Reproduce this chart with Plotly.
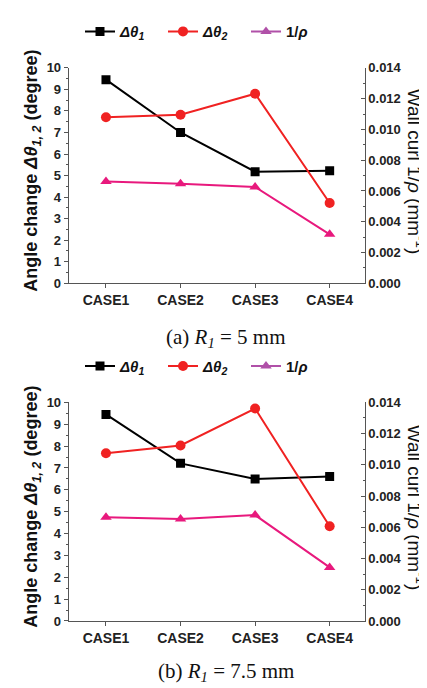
import plotly.graph_objects as go

cases = ["CASE1", "CASE2", "CASE3", "CASE4"]

# (a) R1 = 5 mm
a_dtheta1 = [9.45, 7.0, 5.18, 5.22]
a_dtheta2 = [7.71, 7.82, 8.80, 3.73]
a_curl = [0.00662, 0.00647, 0.00626, 0.00318]

# (b) R1 = 7.5 mm
b_dtheta1 = [9.45, 7.21, 6.50, 6.61]
b_dtheta2 = [7.67, 8.03, 9.72, 4.33]
b_curl = [0.00665, 0.00653, 0.00678, 0.00343]

left_ticks = list(range(0, 11))
right_ticks = [0.000, 0.002, 0.004, 0.006, 0.008, 0.010, 0.012, 0.014]

BLACK = "#000000"
RED = "#f02222"
PINK = "#e8197d"
PURPLE = "#b050a8"
FONT = "Liberation Sans, Arial, sans-serif"
SERIF = "Liberation Serif, Times New Roman, serif"

W, H = 427, 688
x0, x1 = 60.7 / W, 356.7 / W
panels = [
    dict(top=54.0, bot=274.3, d1=a_dtheta1, d2=a_dtheta2, c=a_curl,
         cap="(a) <i>R</i><sub><i>1</i></sub> = 5 mm", capy=330, legy=17),
    dict(top=396.0, bot=619.5, d1=b_dtheta1, d2=b_dtheta2, c=b_curl,
         cap="(b) <i>R</i><sub><i>1</i></sub> = 7.5 mm", capy=672, legy=359),
]

fig = go.Figure()
annotations = []

for i, p in enumerate(panels):
    n = i + 1
    xa = "x" if n == 1 else "x2"
    ya = "y" if n == 1 else "y3"
    yb = "y2" if n == 1 else "y4"
    leg = "legend" if n == 1 else "legend2"
    fig.add_trace(go.Scatter(x=cases, y=p["d1"], xaxis=xa, yaxis=ya, mode="lines+markers",
                             line=dict(color=BLACK, width=2),
                             marker=dict(symbol="square", size=9, color=BLACK),
                             name="<b><i>Δθ</i><sub><i>1</i></sub></b>", legend=leg))
    fig.add_trace(go.Scatter(x=cases, y=p["d2"], xaxis=xa, yaxis=ya, mode="lines+markers",
                             line=dict(color=RED, width=2),
                             marker=dict(symbol="circle", size=10, color=RED),
                             name="<b><i>Δθ</i><sub><i>2</i></sub></b>", legend=leg))
    fig.add_trace(go.Scatter(x=cases, y=p["c"], xaxis=xa, yaxis=yb, mode="lines+markers",
                             line=dict(color=PINK, width=2),
                             marker=dict(symbol="triangle-up", size=10, color=PINK),
                             name="1/ρ", showlegend=False))
    # legend-only entry (legend swatch shown in purple in the reference)
    fig.add_trace(go.Scatter(x=[None], y=[None], xaxis=xa, yaxis=yb, mode="lines+markers",
                             line=dict(color=PURPLE, width=2),
                             marker=dict(symbol="triangle-up", size=10, color=PURPLE),
                             name="<b>1/<i>ρ</i></b>", legend=leg))

    dom = [(H - p["bot"]) / H, (H - p["top"]) / H]
    axis_common = dict(showline=True, linecolor="#555555", linewidth=1, showgrid=False,
                       zeroline=False, tickcolor="#555555")
    yfont = dict(family=FONT, size=13, color="#222222", weight="bold")
    xfont = dict(family=FONT, size=14, color="#222222", weight="bold")
    xkey = "xaxis" if n == 1 else "xaxis2"
    fig.update_layout({
        xkey: dict(domain=[x0, x1], anchor=ya, type="category", range=[-0.5, 3.47],
                   ticks="outside", ticklen=4, tickfont=xfont, **axis_common),
        ("yaxis" if n == 1 else "yaxis3"): dict(domain=dom, anchor=xa, range=[0, 10],
                   tickvals=left_ticks, ticks="outside", ticklen=4, tickfont=yfont,
                   minor=dict(dtick=0.5, tick0=0, ticks="outside", ticklen=2, tickcolor="#555555"),
                   **axis_common),
        ("yaxis2" if n == 1 else "yaxis4"): dict(domain=dom, anchor=xa, overlaying=ya, side="right",
                   range=[0, 0.014], tickvals=right_ticks, tickformat=".3f",
                   ticks="inside", ticklen=4, tickfont=yfont,
                   minor=dict(dtick=0.001, tick0=0, ticks="inside", ticklen=2, tickcolor="#555555"),
                   **axis_common),
    })
    ymid = (p["top"] + p["bot"]) / 2
    annotations.append(dict(x=25 / W, y=(H - ymid + 5) / H, xref="paper", yref="paper",
                            xanchor="center", yanchor="middle",
                            text="<b>Angle change <i>Δθ</i><sub><i>1, 2</i></sub> (degree)</b>",
                            textangle=-90, showarrow=False,
                            font=dict(family=FONT, size=18, color="#111111")))
    annotations.append(dict(x=408 / W, y=(H - ymid + 4) / H, xref="paper", yref="paper",
                            xanchor="center", yanchor="middle",
                            text="Wall curl 1/<i>ρ</i> (mm<sup>-1</sup>)",
                            textangle=90, showarrow=False,
                            font=dict(family=FONT, size=19, color="#111111")))
    annotations.append(dict(x=218 / W, y=(H - p["capy"]) / H, xref="paper", yref="paper",
                            xanchor="center", yanchor="middle",
                            text=p["cap"], showarrow=False,
                            font=dict(family=SERIF, size=21, color="#111111")))

legend_common = dict(orientation="h", xanchor="left", yanchor="middle", x=72 / W,
                     bgcolor="rgba(0,0,0,0)",
                     font=dict(family=FONT, size=15, color="#111111"),
                     itemwidth=30, tracegroupgap=0, entrywidth=38)
fig.update_layout(
    width=W, height=H, margin=dict(l=0, r=0, t=0, b=0),
    paper_bgcolor="white", plot_bgcolor="white",
    legend=dict(y=(H - 17) / H, **legend_common),
    legend2=dict(y=(H - 359) / H, **legend_common),
    annotations=annotations,
)

fig.write_html("out.html")
